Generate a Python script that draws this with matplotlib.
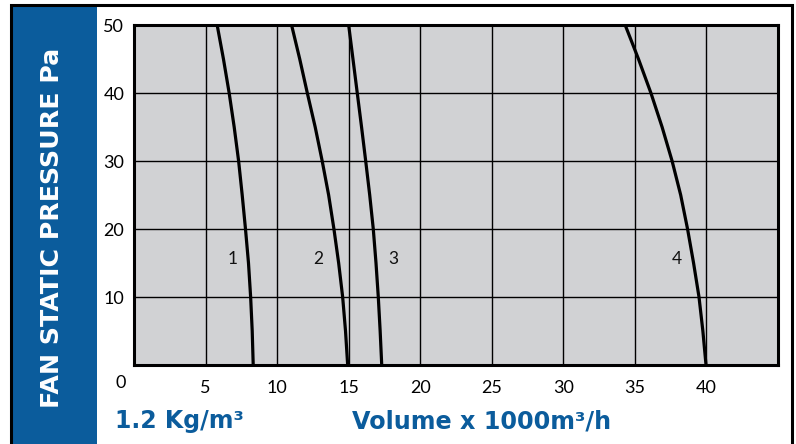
import matplotlib.pyplot as plt
from matplotlib.patches import Rectangle

# ==== DATI ====
pressure = [50, 45, 40, 35, 30, 25, 20, 15, 10, 5, 0]
curve_1 = [5.81, 6.25, 6.65, 7.00, 7.31, 7.56, 7.79, 8.00, 8.15, 8.26, 8.33]
curve_2 = [11.01, 11.58, 12.11, 12.66, 13.15, 13.60, 13.97, 14.30, 14.58, 14.78, 14.93]
curve_3 = [15.00, 15.30, 15.60, 15.90, 16.19, 16.47, 16.72, 16.91, 17.07, 17.20, 17.31]
curve_4 = [34.32, 35.25, 36.12, 36.90, 37.60, 38.20, 38.68, 39.10, 39.48, 39.75, 39.97]
curve_names = ["1", "2", "3", "4"]
label_x = [6.86, 12.87, 18.1, 37.9]
label_y = 15.6

x_ticks = [5, 10, 15, 20, 25, 30, 35, 40]
y_ticks = [10, 20, 30, 40, 50]

BLUE = "#0b5c9c"
GRAY = "#d1d2d4"
plt.rcParams["font.family"] = ["Lato", "DejaVu Sans"]

fig = plt.figure(figsize=(7.96, 4.44), dpi=100)
W, H = 796, 444

# --- cornice e pannello blu ---
fig.patches.append(Rectangle((12 / W, 0), 85 / W, (H - 6) / H, transform=fig.transFigure,
                             facecolor=BLUE, edgecolor="none", zorder=0))
fig.patches.append(Rectangle((11 / W, -0.01), (792 - 11) / W, (H - 5) / H + 0.01,
                             transform=fig.transFigure, facecolor="none",
                             edgecolor="black", linewidth=2.2, zorder=1))

ax = fig.add_axes([134 / W, (H - 365) / H, (778 - 134) / W, (365 - 25) / H])
ax.set_facecolor(GRAY)
ax.set_xlim(0, 45)
ax.set_ylim(0, 50)

for x in x_ticks:
    ax.axvline(x, color="black", linewidth=1.0, zorder=1)
for y in y_ticks[:-1]:
    ax.axhline(y, color="black", linewidth=1.0, zorder=1)

for xs in [curve_1, curve_2, curve_3, curve_4]:
    ax.plot(xs, pressure, color="black", linewidth=2.3, solid_capstyle="butt", zorder=3)

for name, lx in zip(curve_names, label_x):
    ax.text(lx, label_y, name, fontsize=12.5, ha="center", va="center", color="#111111", zorder=4)

ax.set_xticks(x_ticks)
ax.set_yticks(y_ticks)
ax.tick_params(axis="both", length=0, labelsize=13, colors="black")
ax.tick_params(axis="x", pad=11)
ax.tick_params(axis="y", pad=7)
for s in ax.spines.values():
    s.set_linewidth(2.2)
    s.set_zorder(5)

# zero d'angolo
fig.text(121 / W, 1 - 383 / H, "0", fontsize=13, ha="center", va="center")

# --- etichette ---
fig.text(52 / W, 1 - 228 / H, "FAN STATIC PRESSURE Pa", rotation=90, color="white",
         fontsize=18.2, fontweight="bold", ha="center", va="center", family="DejaVu Sans")
fig.text(115 / W, 1 - 421 / H, "1.2 Kg/m³", color=BLUE, fontsize=17,
         fontweight="bold", ha="left", va="center", family="DejaVu Sans")
fig.text(352 / W, 1 - 421 / H, "Volume x 1000m³/h", color=BLUE, fontsize=17.2,
         fontweight="bold", ha="left", va="center", family="DejaVu Sans")

fig.savefig("out.png", dpi=100)
